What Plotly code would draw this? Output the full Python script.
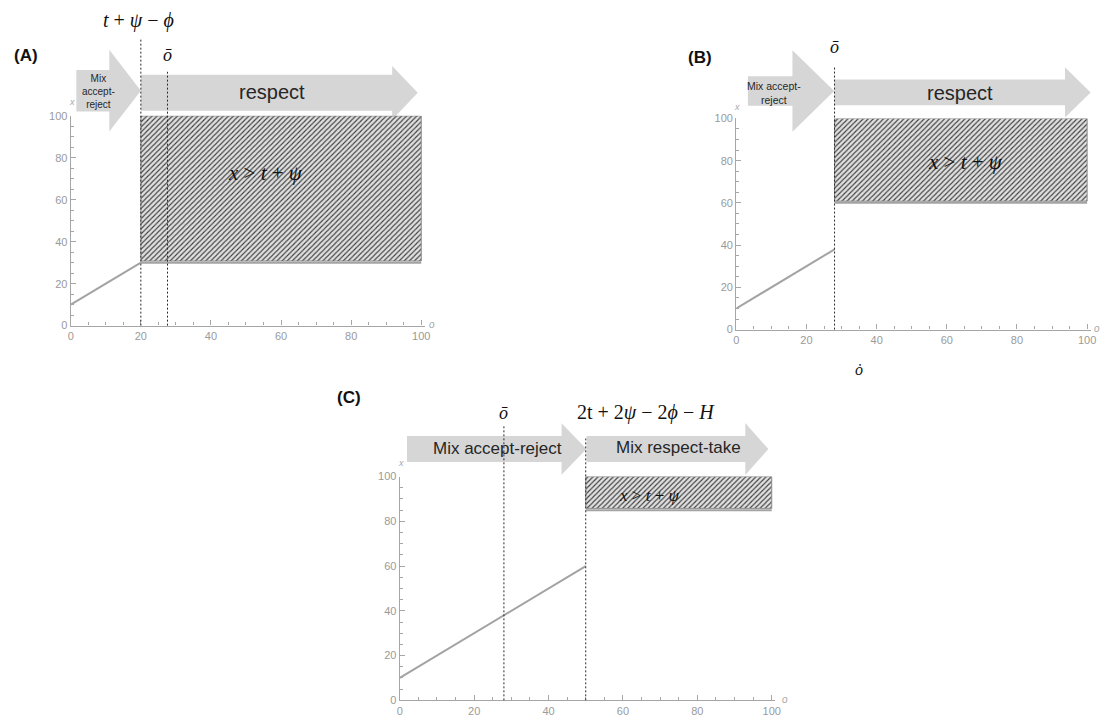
import plotly.graph_objects as go

# ---------------- data ----------------
tick_vals = [0, 20, 40, 60, 80, 100]

# Panel A
a_line_o = [0, 20]
a_line_x = [10, 30]
a_region_o = [20, 100]
a_region_x = [30, 100]
a_cut = 20          # t + psi - phi
a_obar = 27.6       # o-bar

# Panel B
b_line_o = [0, 28]
b_line_x = [10, 38]
b_region_o = [28, 100]
b_region_x = [60, 100]
b_obar = 28

# Panel C
c_line_o = [0, 50]
c_line_x = [10, 60]
c_region_o = [50, 100]
c_region_x = [85, 100]
c_obar = 28
c_cut = 50          # 2t + 2psi - 2phi - H

# ---------------- layout geometry ----------------
XR = [0, 101]
YR = [0, 100]
DOM = {
    "A": dict(x=(0.06142, 0.38237), y=(0.55234, 0.84614), xa="x", ya="y"),
    "B": dict(x=(0.66484, 0.98606), y=(0.54683, 0.84256), xa="x2", ya="y2"),
    "C": dict(x=(0.35971, 0.70031), y=(0.027548, 0.34091), xa="x3", ya="y3"),
}


def px(p, v):
    d = DOM[p]["x"]
    return d[0] + (v - XR[0]) / (XR[1] - XR[0]) * (d[1] - d[0])


def py(p, v):
    d = DOM[p]["y"]
    return d[0] + (v - YR[0]) / (YR[1] - YR[0]) * (d[1] - d[0])


LINE_GRAY = "#a3a3a3"
ARROW_FILL = "#d6d6d6"
TEXT_DARK = "#262626"
SANS = "Liberation Sans, Arial, sans-serif"
SERIF = "Liberation Serif, Times New Roman, serif"

fig = go.Figure()

panels = [
    ("A", a_line_o, a_line_x, a_region_o, a_region_x),
    ("B", b_line_o, b_line_x, b_region_o, b_region_x),
    ("C", c_line_o, c_line_x, c_region_o, c_region_x),
]

for p, lo, lx, ro, rx in panels:
    xa, ya = DOM[p]["xa"], DOM[p]["ya"]
    # hatched region
    fig.add_trace(go.Scatter(
        x=[ro[0], ro[1], ro[1], ro[0], ro[0]],
        y=[rx[0] + 0.8, rx[0] + 0.8, rx[1], rx[1], rx[0] + 0.8],
        mode="lines", fill="toself",
        fillcolor="#e0e0e0",
        fillpattern=dict(shape="/", size=3.6, solidity=0.32,
                         fgcolor="#404040", bgcolor="#e0e0e0", fillmode="replace"),
        line=dict(color="#8a8a8a", width=1),
        hoverinfo="skip", xaxis=xa, yaxis=ya))
    # lower boundary of the region
    fig.add_trace(go.Scatter(
        x=[ro[0], ro[1]], y=[rx[0], rx[0]], mode="lines",
        line=dict(color=LINE_GRAY, width=2), hoverinfo="skip",
        xaxis=xa, yaxis=ya))
    # rising line
    fig.add_trace(go.Scatter(
        x=lo, y=lx, mode="lines",
        line=dict(color=LINE_GRAY, width=2), hoverinfo="skip",
        xaxis=xa, yaxis=ya))

# ---------------- axes ----------------
axis_font = dict(family=SANS, size=11, color="#9a9a9a")


def xaxis_cfg(p):
    return dict(domain=list(DOM[p]["x"]), range=XR, anchor=DOM[p]["ya"],
                showline=True, linecolor="#a6a6a6", linewidth=1.3,
                ticks="inside", ticklen=5, tickwidth=1.2, tickcolor="#a6a6a6",
                tickmode="array", tickvals=tick_vals,
                minor=dict(ticks="inside", ticklen=3, tick0=0, dtick=5,
                           tickcolor="#a6a6a6", tickwidth=1, showgrid=False),
                showgrid=False, zeroline=False, tickfont=axis_font,
                fixedrange=True)


def yaxis_cfg(p):
    return dict(domain=list(DOM[p]["y"]), range=YR, anchor=DOM[p]["xa"],
                showline=True, linecolor="#a6a6a6", linewidth=1.3,
                ticks="inside", ticklen=5, tickwidth=1.2, tickcolor="#a6a6a6",
                tickmode="array", tickvals=tick_vals,
                minor=dict(ticks="inside", ticklen=3, tick0=0, dtick=5,
                           tickcolor="#a6a6a6", tickwidth=1, showgrid=False),
                showgrid=False, zeroline=False, tickfont=axis_font,
                fixedrange=True)


shapes = []
annotations = []


def arrow(p, x0, xh, xt, yc, bh, hh):
    pts = [(x0, yc - bh), (xh, yc - bh), (xh, yc - hh), (xt, yc),
           (xh, yc + hh), (xh, yc + bh), (x0, yc + bh)]
    path = "M " + " L ".join(f"{px(p, a):.5f},{py(p, b):.5f}" for a, b in pts) + " Z"
    shapes.append(dict(type="path", xref="paper", yref="paper", path=path,
                       fillcolor=ARROW_FILL, line=dict(width=0), layer="below"))


def text(p, x, y, s, size, family=SANS, color=TEXT_DARK, **kw):
    annotations.append(dict(xref="paper", yref="paper", x=px(p, x), y=py(p, y),
                            text=s, showarrow=False, xanchor="center", yanchor="middle",
                            font=dict(family=family, size=size, color=color), **kw))


def vline(p, x, top):
    shapes.append(dict(type="line", xref=DOM[p]["xa"], yref="paper",
                       x0=x, x1=x, y0=py(p, 0), y1=py(p, top),
                       line=dict(color="#2a2a2a", width=1, dash="2px,2px")))


# ---- Panel A ----
arrow("A", 1.6, 11, 20, 112, 9.9, 19.5)
arrow("A", 20, 91.7, 99, 111, 8.6, 12.8)
text("A", 7.8, 111.7, "Mix<br>accept-<br>reject", 10)
text("A", 57.4, 111.3, "respect", 20)
vline("A", a_cut, 137)
vline("A", a_obar, 121)
text("A", a_cut - 0.6, 145.5, "<i>t</i> + <i>ψ</i> − <i>ϕ</i>", 20, family=SERIF, color="#111")
text("A", a_obar, 129, "<i>ō</i>", 18, family=SERIF, color="#111")
text("A", 55.7, 72.7, "<i>x</i> > <i>t</i> + <i>ψ</i>", 21, family=SERIF, color="#111")

# ---- Panel B ----
arrow("B", 3.3, 16, 27.9, 113, 7, 19.3)
arrow("B", 28, 93.7, 101, 112.3, 6.1, 11.9)
text("B", 10.7, 112, "Mix accept-<br>reject", 10.5)
text("B", 63.8, 111.8, "respect", 20)
vline("B", b_obar, 125)
text("B", b_obar, 134, "<i>ō</i>", 18, family=SERIF, color="#111")
text("B", 65.3, 79.5, "<i>x</i> > <i>t</i> + <i>ψ</i>", 21, family=SERIF, color="#111")
text("B", 35, -19, "<i>ȯ</i>", 16, family=SERIF, color="#111")

# ---- Panel C ----
arrow("C", 1.95, 43.5, 50.2, 112.3, 5.8, 11.5)
arrow("C", 50.2, 92.9, 99.1, 112.3, 5.8, 11.6)
text("C", 26.2, 112.4, "Mix accept-reject", 17)
text("C", 74.9, 113, "Mix respect-take", 17)
vline("C", c_obar, 122.6)
vline("C", c_cut, 117)
text("C", c_obar, 128.5, "<i>ō</i>", 18, family=SERIF, color="#111")
text("C", 66.1, 128.5, "2t + 2<i>ψ</i> − 2<i>ϕ</i> − <i>H</i>", 20, family=SERIF, color="#111")
text("C", 67, 91.6, "<i>x</i> > <i>t</i> + <i>ψ</i>", 17, family=SERIF, color="#111")

# axis name labels
for p, ylab_y, olab_x in [("A", 106.6, 103.0), ("B", 105.6, 102.9), ("C", 106, 103.5)]:
    text(p, 0.3, ylab_y, "<i>x</i>", 9, color="#a8a8a8")
    text(p, olab_x, 0.5, "<i>o</i>", 10, color="#a8a8a8")

# panel letters
for lab, xpix, ypix in [("(A)", 23, 50), ("(B)", 703, 52), ("(C)", 349, 398)]:
    annotations.append(dict(xref="paper", yref="paper", x=xpix / 1112, y=1 - ypix / 726,
                            text=f"<b>{lab}</b>", showarrow=False,
                            xanchor="center", yanchor="middle",
                            font=dict(family=SANS, size=17, color="#111")))

fig.update_layout(
    width=1112, height=726,
    margin=dict(l=0, r=0, t=0, b=0),
    paper_bgcolor="white", plot_bgcolor="rgba(0,0,0,0)",
    showlegend=False,
    xaxis=xaxis_cfg("A"), yaxis=yaxis_cfg("A"),
    xaxis2=xaxis_cfg("B"), yaxis2=yaxis_cfg("B"),
    xaxis3=xaxis_cfg("C"), yaxis3=yaxis_cfg("C"),
    shapes=shapes, annotations=annotations,
)

fig.write_html("out.html",
               config={"displayModeBar": False},
               post_script="document.body.style.margin='0px';"
                           "document.body.style.overflow='hidden';")
